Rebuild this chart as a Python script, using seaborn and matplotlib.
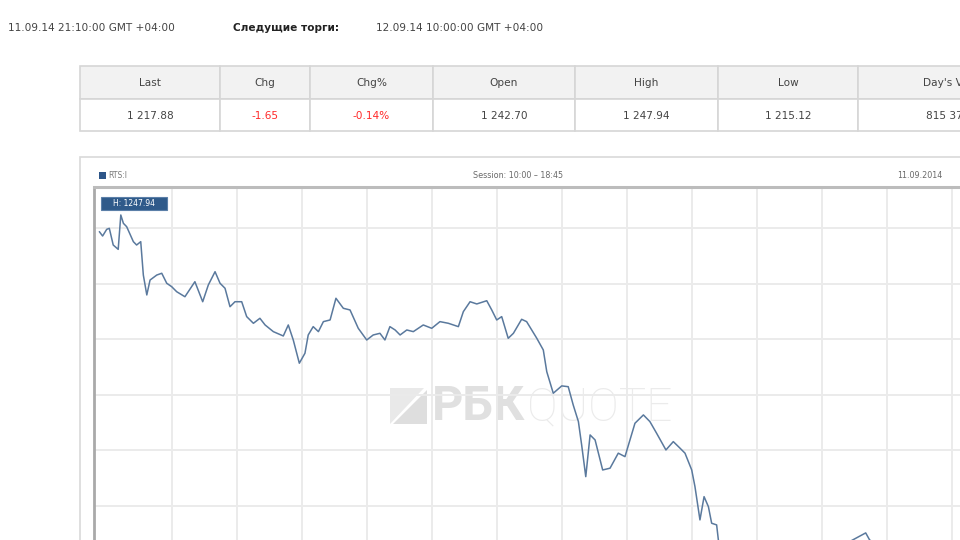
import matplotlib
matplotlib.use("Agg")
import matplotlib.pyplot as plt
import seaborn as sns
import pandas as pd
import numpy as np
from matplotlib.patches import Rectangle, Polygon
from matplotlib.ticker import MultipleLocator

# ---------------- data ----------------
minutes = [-3.3, -1.8, 0.1, 1.3, 3.1, 5.4, 6.6, 7.8, 9.3, 12.4,
           13.9, 15.8, 17.0, 18.6, 20.1, 23.2, 25.5, 27.8, 30.1, 32.4,
           36.2, 40.8, 44.4, 47.0, 50.1, 52.4, 54.7, 57.0, 59.3, 62.4,
           64.7, 67.8, 70.8, 73.2, 77.0, 81.6, 83.9, 86.2, 89.0, 91.6,
           93.1, 95.4, 97.8, 100.1, 103.2, 105.9, 109.3, 112.4, 116.2, 120.1,
           123.1, 126.2, 128.5, 130.8, 133.2, 135.5, 138.6, 141.6, 146.2, 150.1,
           153.9, 157.8, 162.4, 164.7, 167.8, 170.9, 175.5, 177.8, 180.1, 182.4,
           185.4, 187.8, 191.6, 193.9, 198.6, 201.6, 203.2, 206.2, 210.1, 213.1,
           215.4, 217.8, 219.3, 221.2, 223.2, 225.5, 229.0, 232.4, 236.2, 239.3,
           243.9, 247.8, 250.8, 253.9, 258.2, 261.6, 264.7, 267.0, 270.1, 271.6,
           273.9, 275.8, 277.8, 279.3, 281.6, 282.4,
           285.4, 292.3, 301.5, 315.3, 329.2, 343.0, 350.4, 352.2, 359.2, 370.8, 384.7, 398.5]

prices = [1244.67, 1244.28, 1244.88, 1244.97, 1243.47, 1243.08, 1246.17, 1245.42, 1245.12, 1243.77,
          1243.47, 1243.77, 1240.77, 1238.98, 1240.32, 1240.77, 1240.93, 1240.03, 1239.72, 1239.27,
          1238.82, 1240.17, 1238.37, 1239.88, 1241.07, 1240.03, 1239.58, 1237.92, 1238.37, 1238.37,
          1237.03, 1236.43, 1236.88, 1236.28, 1235.68, 1235.29, 1236.28, 1234.93, 1232.84, 1233.74,
          1235.38, 1236.13, 1235.68, 1236.58, 1236.73, 1238.68, 1237.78, 1237.63, 1235.98, 1234.93,
          1235.38, 1235.53, 1234.93, 1236.13, 1235.83, 1235.38, 1235.83, 1235.68, 1236.28, 1235.98,
          1236.58, 1236.43, 1236.13, 1237.48, 1238.37, 1238.17, 1238.46, 1237.63, 1236.73, 1237.03,
          1235.08, 1235.53, 1236.79, 1236.58, 1235.08, 1234.03, 1232.08, 1230.14, 1230.80, 1230.73,
          1229.09, 1227.59, 1225.49, 1222.64, 1226.39, 1225.94, 1223.24, 1223.40, 1224.75, 1224.44,
          1227.44, 1228.19, 1227.59, 1226.54, 1225.04, 1225.79, 1225.20, 1224.75, 1223.24, 1221.74,
          1218.75, 1220.84, 1219.94, 1218.45, 1218.30, 1216.95,
          1215.15, 1215.60, 1216.20, 1215.90, 1216.50, 1216.80, 1217.58, 1216.95, 1216.05, 1216.50, 1216.20, 1216.35]

table_headers = ["Last", "Chg", "Chg%", "Open", "High", "Low", "Day's Volume"]
table_values = ["1 217.88", "-1.65", "-0.14%", "1 242.70", "1 247.94", "1 215.12", "815 373 520"]
value_is_change = [False, True, True, False, False, False, False]

header_left = "11.09.14 21:10:00 GMT +04:00"
header_label = "Следущие торги:"
header_next = "12.09.14 10:00:00 GMT +04:00"

series_name = "RTS:I"
session_text = "Session: 10:00 \u2013 18:45"
date_text = "11.09.2014"
high_label = "H: 1247.94"

# ---------------- style ----------------
sns.set_theme(style="white")
plt.rcParams["font.family"] = ["DejaVu Sans"]

fig = plt.figure(figsize=(9.6, 5.4), dpi=100)
fig.patch.set_facecolor("white")

# background overlay in pixel coordinates
bg = fig.add_axes([0, 0, 1, 1], zorder=0)
bg.set_xlim(0, 960)
bg.set_ylim(540, 0)
bg.axis("off")

txt_col = "#444444"
bg.text(8, 28, header_left, fontsize=7.6, color=txt_col, va="center", ha="left")
bg.text(233, 28, header_label, fontsize=7.6, color="#222222", va="center", ha="left", fontweight="bold")
bg.text(376, 28, header_next, fontsize=7.6, color=txt_col, va="center", ha="left")

# table
col_edges = [80, 220, 310, 433, 575, 718, 858, 1060]
grid_col = "#d6d6d6"
for i, (h, v) in enumerate(zip(table_headers, table_values)):
    x0, x1 = col_edges[i], col_edges[i + 1]
    bg.add_patch(Rectangle((x0, 66), x1 - x0, 33, facecolor="#f2f2f2", edgecolor=grid_col, lw=1.2))
    bg.add_patch(Rectangle((x0, 99), x1 - x0, 32, facecolor="white", edgecolor=grid_col, lw=1.2))
    cx = (x0 + x1) / 2
    bg.text(cx, 83, h, fontsize=7.6, color=txt_col, ha="center", va="center")
    bg.text(cx, 116, v, fontsize=7.6, ha="center", va="center",
            color="#ff2a2a" if value_is_change[i] else txt_col)

# chart panel frame + title bar
bg.add_patch(Rectangle((80, 157), 1000, 500, facecolor="white", edgecolor="#d9d9d9", lw=1.2))
bg.add_patch(Rectangle((99, 171.5), 7, 7, facecolor="#2d5588", edgecolor="none"))
bg.text(108, 175, series_name, fontsize=5.5, color="#7a7a7a", ha="left", va="center")
bg.text(518, 175, session_text, fontsize=5.8, color="#6a6a6a", ha="center", va="center")
bg.text(897, 175, date_text, fontsize=5.8, color="#6a6a6a", ha="left", va="center")

# ---------------- chart axes ----------------
left_px, right_px, top_px, bot_px = 94, 1010, 187, 660
ax = fig.add_axes([left_px / 960, (540 - bot_px) / 540,
                   (right_px - left_px) / 960, (bot_px - top_px) / 540], zorder=1)
ax.set_facecolor("none")

df = pd.DataFrame({"minute": minutes, "price": prices})

# watermark (behind line)
wm_tr = bg.transData
ax.add_patch(Polygon([[390, 424], [390, 388], [424, 388]], closed=True, facecolor="#e9e9e9",
                     edgecolor="none", transform=wm_tr, zorder=0.5, clip_on=False))
ax.add_patch(Polygon([[393, 424], [427, 424], [427, 390]], closed=True, facecolor="#dedede",
                     edgecolor="none", transform=wm_tr, zorder=0.5, clip_on=False))
ax.text(432, 407, "РБК", fontsize=35, fontweight="bold", color="#e0e0e0", family="Roboto",
        ha="left", va="center", transform=wm_tr, zorder=0.5)
ax.text(527, 407, "QUOTE", fontsize=33, fontweight="light", color="#ebebeb", family="Roboto",
        ha="left", va="center", transform=wm_tr, zorder=0.5)

sns.lineplot(data=df, x="minute", y="price", ax=ax, color="#5a799d", lw=1.1,
             estimator=None, sort=False, zorder=3)

ax.set_xlim((left_px - 106.5) * 30 / 65, (right_px - 106.5) * 30 / 65)
ax.set_ylim(1245 - (bot_px - 228) * 5 / 55.6, 1245 + (228 - top_px) * 5 / 55.6)
ax.set_xticks(np.arange(30, 420, 30))
ax.yaxis.set_major_locator(MultipleLocator(5))
ax.grid(True, color="#ebebeb", lw=1.4)
ax.set_axisbelow(True)
ax.tick_params(labelleft=False, labelbottom=False, length=0)
ax.set_xlabel("")
ax.set_ylabel("")
for s in ["right", "bottom"]:
    ax.spines[s].set_visible(False)
ax.spines["left"].set_color("#a9a9a9")
ax.spines["left"].set_linewidth(2)
ax.spines["top"].set_color("#bcbcbc")
ax.spines["top"].set_linewidth(2.2)

# high label box
ax.add_patch(Rectangle((101, 197), 66, 13, facecolor="#2f5a8a", edgecolor="#5b7fa8", lw=0.8,
                       transform=wm_tr, clip_on=False, zorder=4))
ax.text(134, 203.5, high_label, fontsize=5.5, color="white", ha="center", va="center",
        transform=wm_tr, zorder=5)

fig.savefig("out.png", dpi=100, facecolor="white")
